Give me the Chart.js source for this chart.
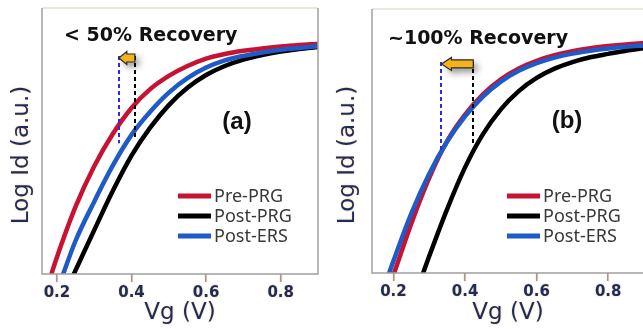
<!DOCTYPE html>
<html>
<head>
<meta charset="utf-8">
<script src="https://cdn.jsdelivr.net/npm/chart.js@4.4.0/dist/chart.umd.min.js"></script>
<style>
  html, body { margin: 0; padding: 0; background: #fff; overflow: hidden; width: 643px; height: 329px; }
  #chartA { position: absolute; left: 0; top: 0; }
  #chartB { position: absolute; left: 322px; top: 0; }
</style>
</head>
<body>
<canvas id="chartA" width="322" height="329"></canvas>
<canvas id="chartB" width="338" height="329"></canvas>
<script>
// Tick labels on the Vg axis (both panels)
const vgTicks = [0.2, 0.4, 0.6, 0.8];
const seriesNames = ['Pre-PRG', 'Post-PRG', 'Post-ERS'];
const seriesColors = ['#c81232', '#000000', '#1f5bc6'];

// Panel (a): Vg (V) and Log Id (a.u., 0-100) for each curve
const aPreVg = [0.18, 0.20, 0.25, 0.30, 0.35, 0.40, 0.45, 0.50, 0.55, 0.60, 0.65, 0.70, 0.75, 0.80, 0.85, 0.90];
const aPreId = [-2.3, 6.3, 25.3, 40.5, 52.7, 62.4, 69.5, 74.5, 78.2, 81.0, 82.7, 83.9, 84.8, 85.5, 86.05, 86.5];
const aPostPrgVg = [0.24, 0.25, 0.30, 0.35, 0.40, 0.45, 0.50, 0.55, 0.60, 0.65, 0.70, 0.75, 0.80, 0.85, 0.90];
const aPostPrgId = [-1.6, 1.4, 16.5, 31.3, 44.5, 55.0, 63.5, 70.0, 74.8, 78.2, 80.6, 82.3, 83.6, 84.6, 85.3];
const aPostErsVg = [0.21, 0.25, 0.30, 0.35, 0.40, 0.45, 0.50, 0.55, 0.60, 0.65, 0.70, 0.75, 0.80, 0.85, 0.90];
const aPostErsId = [-2.6, 12.5, 27.2, 40.8, 52.3, 61.0, 68.2, 73.6, 77.6, 80.3, 82.0, 83.3, 84.3, 85.0, 85.6];

// Panel (b)
const bPreVg = [0.19, 0.20, 0.25, 0.30, 0.35, 0.40, 0.45, 0.50, 0.55, 0.60, 0.65, 0.70, 0.75, 0.80, 0.85, 0.90];
const bPreId = [-4.5, -0.7, 18.8, 36.0, 50.0, 60.0, 67.7, 73.4, 77.5, 80.4, 82.5, 84.0, 85.1, 85.95, 86.6, 87.1];
const bPostPrgVg = [0.275, 0.30, 0.35, 0.40, 0.45, 0.50, 0.55, 0.60, 0.65, 0.70, 0.75, 0.80, 0.85, 0.90];
const bPostPrgId = [-3.0, 6.4, 24.2, 40.0, 52.6, 62.0, 68.9, 73.9, 77.4, 79.9, 81.7, 83.0, 84.2, 85.1];
const bPostErsVg = [0.18, 0.20, 0.25, 0.30, 0.35, 0.40, 0.45, 0.50, 0.55, 0.60, 0.65, 0.70, 0.75, 0.80, 0.85, 0.90];
const bPostErsId = [-3.1, 4.6, 22.6, 37.6, 49.8, 59.3, 66.8, 72.5, 76.6, 79.5, 81.6, 83.1, 84.2, 85.05, 85.7, 86.2];

// Recovery markers: [Post-ERS Vg, Post-PRG Vg], dashed line top / bottoms, arrow level
const aMarkVg = [0.366, 0.409];
const aMarkBottom = [49.2, 51.5];
const aMarkTop = 82;
const aArrowId = 81.2;
const bMarkVg = [0.334, 0.423];
const bMarkBottom = [46.6, 49.2];
const bMarkTop = 79.9;
const bArrowId = 79.2;

const navy = '#1b2d5c';

function toPoints(xs, ys) {
    return xs.map(function(x, i) { return { x: x, y: ys[i] }; });
}

function arrowPath(ctx, xHead, xTail, yc, headLen, headH, bodyH) {
    ctx.beginPath();
    ctx.moveTo(xHead, yc);
    ctx.lineTo(xHead + headLen, yc - headH);
    ctx.lineTo(xHead + headLen, yc - bodyH);
    ctx.lineTo(xTail, yc - bodyH);
    ctx.lineTo(xTail, yc + bodyH);
    ctx.lineTo(xHead + headLen, yc + bodyH);
    ctx.lineTo(xHead + headLen, yc + headH);
    ctx.closePath();
}

// Draws frame, y title, recovery markers, text and legend
const panelDecor = {
    id: 'panelDecor',
    beforeDraw(chart, args, opts) {
        const ctx = chart.ctx;
        ctx.save();
        // soft orange glow behind axis text
        ctx.shadowColor = 'rgba(235,150,40,0.55)';
        ctx.shadowBlur = 2;
        ctx.save();
        ctx.translate(opts.yTitlePos[0], opts.yTitlePos[1]);
        ctx.rotate(-Math.PI / 2);
        ctx.fillStyle = navy;
        ctx.font = '23px "DejaVu Sans"';
        ctx.textAlign = 'center';
        ctx.textBaseline = 'middle';
        ctx.fillText('Log Id (a.u.)', 0, 0);
        ctx.restore();
    },
    beforeDatasetsDraw(chart) {
        chart.ctx.restore();
    },
    afterDatasetsDraw(chart, args, opts) {
        const ctx = chart.ctx;
        const ca = chart.chartArea;
        const x = chart.scales.x;
        const y = chart.scales.y;
        ctx.save();

        // frame
        ctx.lineWidth = 1.5;
        ctx.strokeStyle = '#e4dfd4';
        ctx.beginPath();
        ctx.moveTo(ca.left, ca.top);
        ctx.lineTo(ca.right, ca.top);
        ctx.stroke();
        ctx.strokeStyle = '#a0a0a0';
        ctx.beginPath();
        ctx.moveTo(ca.left, ca.top);
        ctx.lineTo(ca.left, ca.bottom);
        ctx.lineTo(ca.right, ca.bottom);
        ctx.lineTo(ca.right, ca.top);
        ctx.stroke();

        // dashed marker lines
        ctx.lineWidth = 2;
        ctx.setLineDash([4, 3]);
        const markColors = ['#2b2bf0', '#000000'];
        opts.markVg.forEach(function(v, i) {
            const px = Math.round(x.getPixelForValue(v));
            ctx.strokeStyle = markColors[i];
            ctx.beginPath();
            ctx.moveTo(px, y.getPixelForValue(opts.markTop));
            ctx.lineTo(px, y.getPixelForValue(opts.markBottom[i]));
            ctx.stroke();
        });
        ctx.setLineDash([]);

        // arrow from Post-PRG towards Post-ERS
        const xHead = x.getPixelForValue(opts.markVg[0]);
        const xTail = x.getPixelForValue(opts.markVg[1]);
        const yc = y.getPixelForValue(opts.arrowId);
        ctx.save();
        ctx.shadowColor = 'rgba(0,0,0,0.45)';
        ctx.shadowBlur = 7;
        ctx.shadowOffsetX = 4;
        ctx.shadowOffsetY = 4;
        arrowPath(ctx, xHead, xTail, yc, opts.arrow[0], opts.arrow[1], opts.arrow[2]);
        ctx.fillStyle = '#f4b31a';
        ctx.fill();
        ctx.restore();
        arrowPath(ctx, xHead, xTail, yc, opts.arrow[0], opts.arrow[1], opts.arrow[2]);
        ctx.lineWidth = 1.2;
        ctx.strokeStyle = '#2a2a2a';
        ctx.stroke();

        // recovery note
        ctx.fillStyle = '#111';
        ctx.font = 'bold 19px "DejaVu Sans"';
        ctx.textAlign = 'left';
        ctx.textBaseline = 'middle';
        ctx.fillText(opts.note, opts.notePos[0], opts.notePos[1]);

        // panel label
        ctx.font = 'bold 24px "Liberation Sans"';
        ctx.textAlign = 'center';
        ctx.fillText(opts.label, opts.labelPos[0], opts.labelPos[1]);

        // legend
        ctx.font = '18px "Noto Sans"';
        ctx.textAlign = 'left';
        chart.data.datasets.forEach(function(ds, i) {
            const ly = opts.legendPos[1] + i * 20;
            ctx.strokeStyle = ds.borderColor;
            ctx.lineWidth = 5;
            ctx.beginPath();
            ctx.moveTo(opts.legendPos[0], ly);
            ctx.lineTo(opts.legendPos[0] + 33, ly);
            ctx.stroke();
            ctx.fillStyle = '#383838';
            ctx.fillText(ds.label, opts.legendPos[0] + 36, ly + 1);
        });
        ctx.restore();
    }
};

function makeChart(canvasId, curves, decor, box) {
    const datasets = curves.map(function(pts, i) {
        return {
            label: seriesNames[i],
            data: pts,
            borderColor: seriesColors[i],
            borderWidth: 4.5,
            pointRadius: 0,
            cubicInterpolationMode: 'monotone',
            clip: 0,
            order: [2, 1, 0][i]
        };
    });
    return new Chart(document.getElementById(canvasId), {
        type: 'line',
        data: { datasets: datasets },
        options: {
            responsive: false,
            animation: false,
            events: [],
            layout: { padding: { top: box.top, right: box.right, left: 0, bottom: 0 } },
            scales: {
                x: {
                    type: 'linear',
                    min: box.xMin,
                    max: box.xMax,
                    afterBuildTicks: function(s) { s.ticks = vgTicks.map(function(v) { return { value: v }; }); },
                    afterFit: function(s) { s.height = box.xHeight; },
                    grid: { drawOnChartArea: false, drawTicks: true, tickLength: 8, color: '#9a9a9a', lineWidth: 1.5 },
                    border: { display: false },
                    ticks: {
                        color: navy,
                        font: { family: 'DejaVu Sans', weight: 'bold', size: 15 },
                        padding: 2,
                        maxRotation: 0,
                        autoSkip: false,
                        callback: function(v) { return v.toFixed(1); }
                    },
                    title: {
                        display: true,
                        text: 'Vg (V)',
                        color: navy,
                        font: { family: 'DejaVu Sans', size: 23 },
                        padding: { top: 0, bottom: 2 }
                    }
                },
                y: {
                    type: 'linear',
                    min: 0,
                    max: 100,
                    afterFit: function(s) { s.width = box.yWidth; },
                    ticks: { display: false },
                    grid: { display: false },
                    border: { display: false }
                }
            },
            plugins: {
                legend: { display: false },
                tooltip: { enabled: false },
                panelDecor: decor
            }
        },
        plugins: [panelDecor]
    });
}

makeChart('chartA',
    [toPoints(aPreVg, aPreId), toPoints(aPostPrgVg, aPostPrgId), toPoints(aPostErsVg, aPostErsId)],
    {
        label: '(a)', labelPos: [237, 122],
        note: '< 50% Recovery', notePos: [64, 36],
        markVg: aMarkVg, markTop: aMarkTop, markBottom: aMarkBottom, arrowId: aArrowId,
        arrow: [8, 6.5, 4],
        legendPos: [178, 196],
        yTitlePos: [22, 155]
    },
    { top: 8, right: 4, xHeight: 55, yWidth: 42, xMin: 0.16, xMax: 0.90 }
);

makeChart('chartB',
    [toPoints(bPreVg, bPreId), toPoints(bPostPrgVg, bPostPrgId), toPoints(bPostErsVg, bPostErsId)],
    {
        label: '(b)', labelPos: [245, 121],
        note: '~100% Recovery', notePos: [66, 39],
        markVg: bMarkVg, markTop: bMarkTop, markBottom: bMarkBottom, arrowId: bArrowId,
        arrow: [10, 6.5, 4],
        legendPos: [185, 196],
        yTitlePos: [26, 155]
    },
    { top: 9, right: 16, xHeight: 56, yWidth: 50, xMin: 0.14, xMax: 0.90 }
);
</script>
</body>
</html>
